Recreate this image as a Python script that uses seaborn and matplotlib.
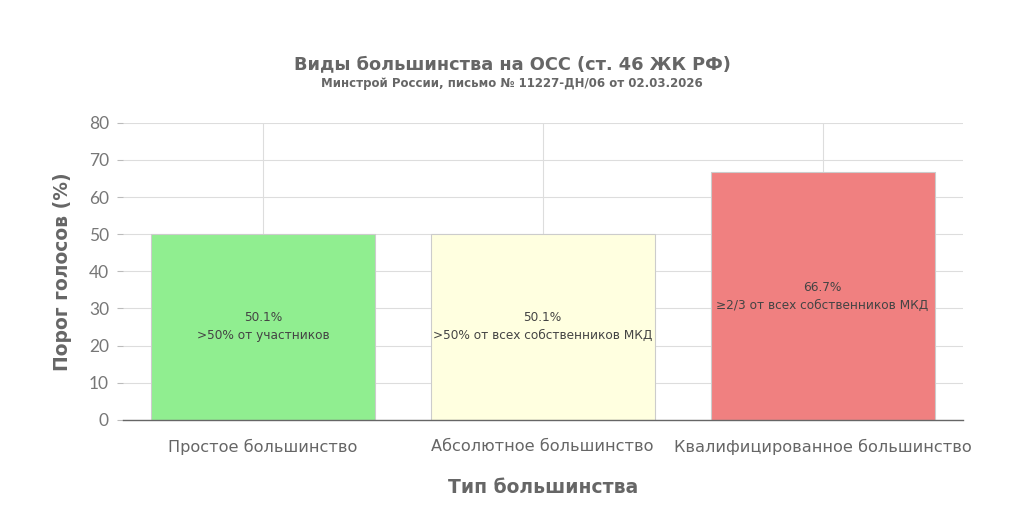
import matplotlib
matplotlib.use("Agg")
import matplotlib.pyplot as plt
import seaborn as sns
import pandas as pd

# data
categories = ["Простое большинство", "Абсолютное большинство", "Квалифицированное большинство"]
thresholds = [50.1, 50.1, 66.7]
notes = [">50% от участников", ">50% от всех собственников МКД", "≥2/3 от всех собственников МКД"]
bar_colors = ["#90EE90", "#FFFFE0", "#F08080"]
y_ticks = [0, 10, 20, 30, 40, 50, 60, 70, 80]

df = pd.DataFrame({"type": categories, "value": thresholds})

sns.set_theme(style="white")
plt.rcParams["font.family"] = ["DejaVu Sans"]

fig, ax = plt.subplots(figsize=(10.24, 5.12), dpi=100)
fig.subplots_adjust(left=0.12, right=0.94, top=0.76, bottom=0.18)

sns.barplot(data=df, x="type", y="value", hue="type", palette=bar_colors,
            legend=False, width=0.8, saturation=1, edgecolor="#cccccc", linewidth=0.8,
            ax=ax, zorder=2)

# labels inside bars
for i, (v, note) in enumerate(zip(thresholds, notes)):
    ax.text(i, v / 2, f"{v:.1f}%\n{note}", ha="center", va="center",
            fontsize=8.7, color="#444444", linespacing=1.5, zorder=3)

ax.set_ylim(0, 80)
ax.set_xlim(-0.5, 2.5)
ax.set_yticks(y_ticks)
ax.set_yticklabels([str(t) for t in y_ticks], fontfamily="Lato", fontsize=12.5, color="#777777")
ax.set_xticks(range(len(categories)))
ax.set_xticklabels(categories, fontsize=11.6, color="#666666")
ax.grid(True, axis="both", color="#dddddd", linewidth=0.8, zorder=0)
ax.set_axisbelow(True)

for s in ["top", "right", "left"]:
    ax.spines[s].set_visible(False)
ax.spines["bottom"].set_color("#666666")
ax.spines["bottom"].set_linewidth(1.0)

ax.tick_params(axis="y", left=True, length=4, width=0.8, color="#bbbbbb", pad=6)
ax.tick_params(axis="x", bottom=False, pad=8)

ax.set_xlabel("Тип большинства", fontsize=13.5, fontweight="bold", color="#666666", labelpad=16)
ax.set_ylabel("Порог голосов (%)", fontsize=13.5, fontweight="bold", color="#666666", labelpad=12)

fig.text(0.5, 0.875, "Виды большинства на ОСС (ст. 46 ЖК РФ)", ha="center", va="center",
         fontsize=12.8, fontweight="bold", color="#666666")
fig.text(0.5, 0.837, "Минстрой России, письмо № 11227-ДН/06 от 02.03.2026", ha="center", va="center",
         fontsize=8.5, fontweight="bold", color="#666666")

plt.savefig("out.png", dpi=100)
